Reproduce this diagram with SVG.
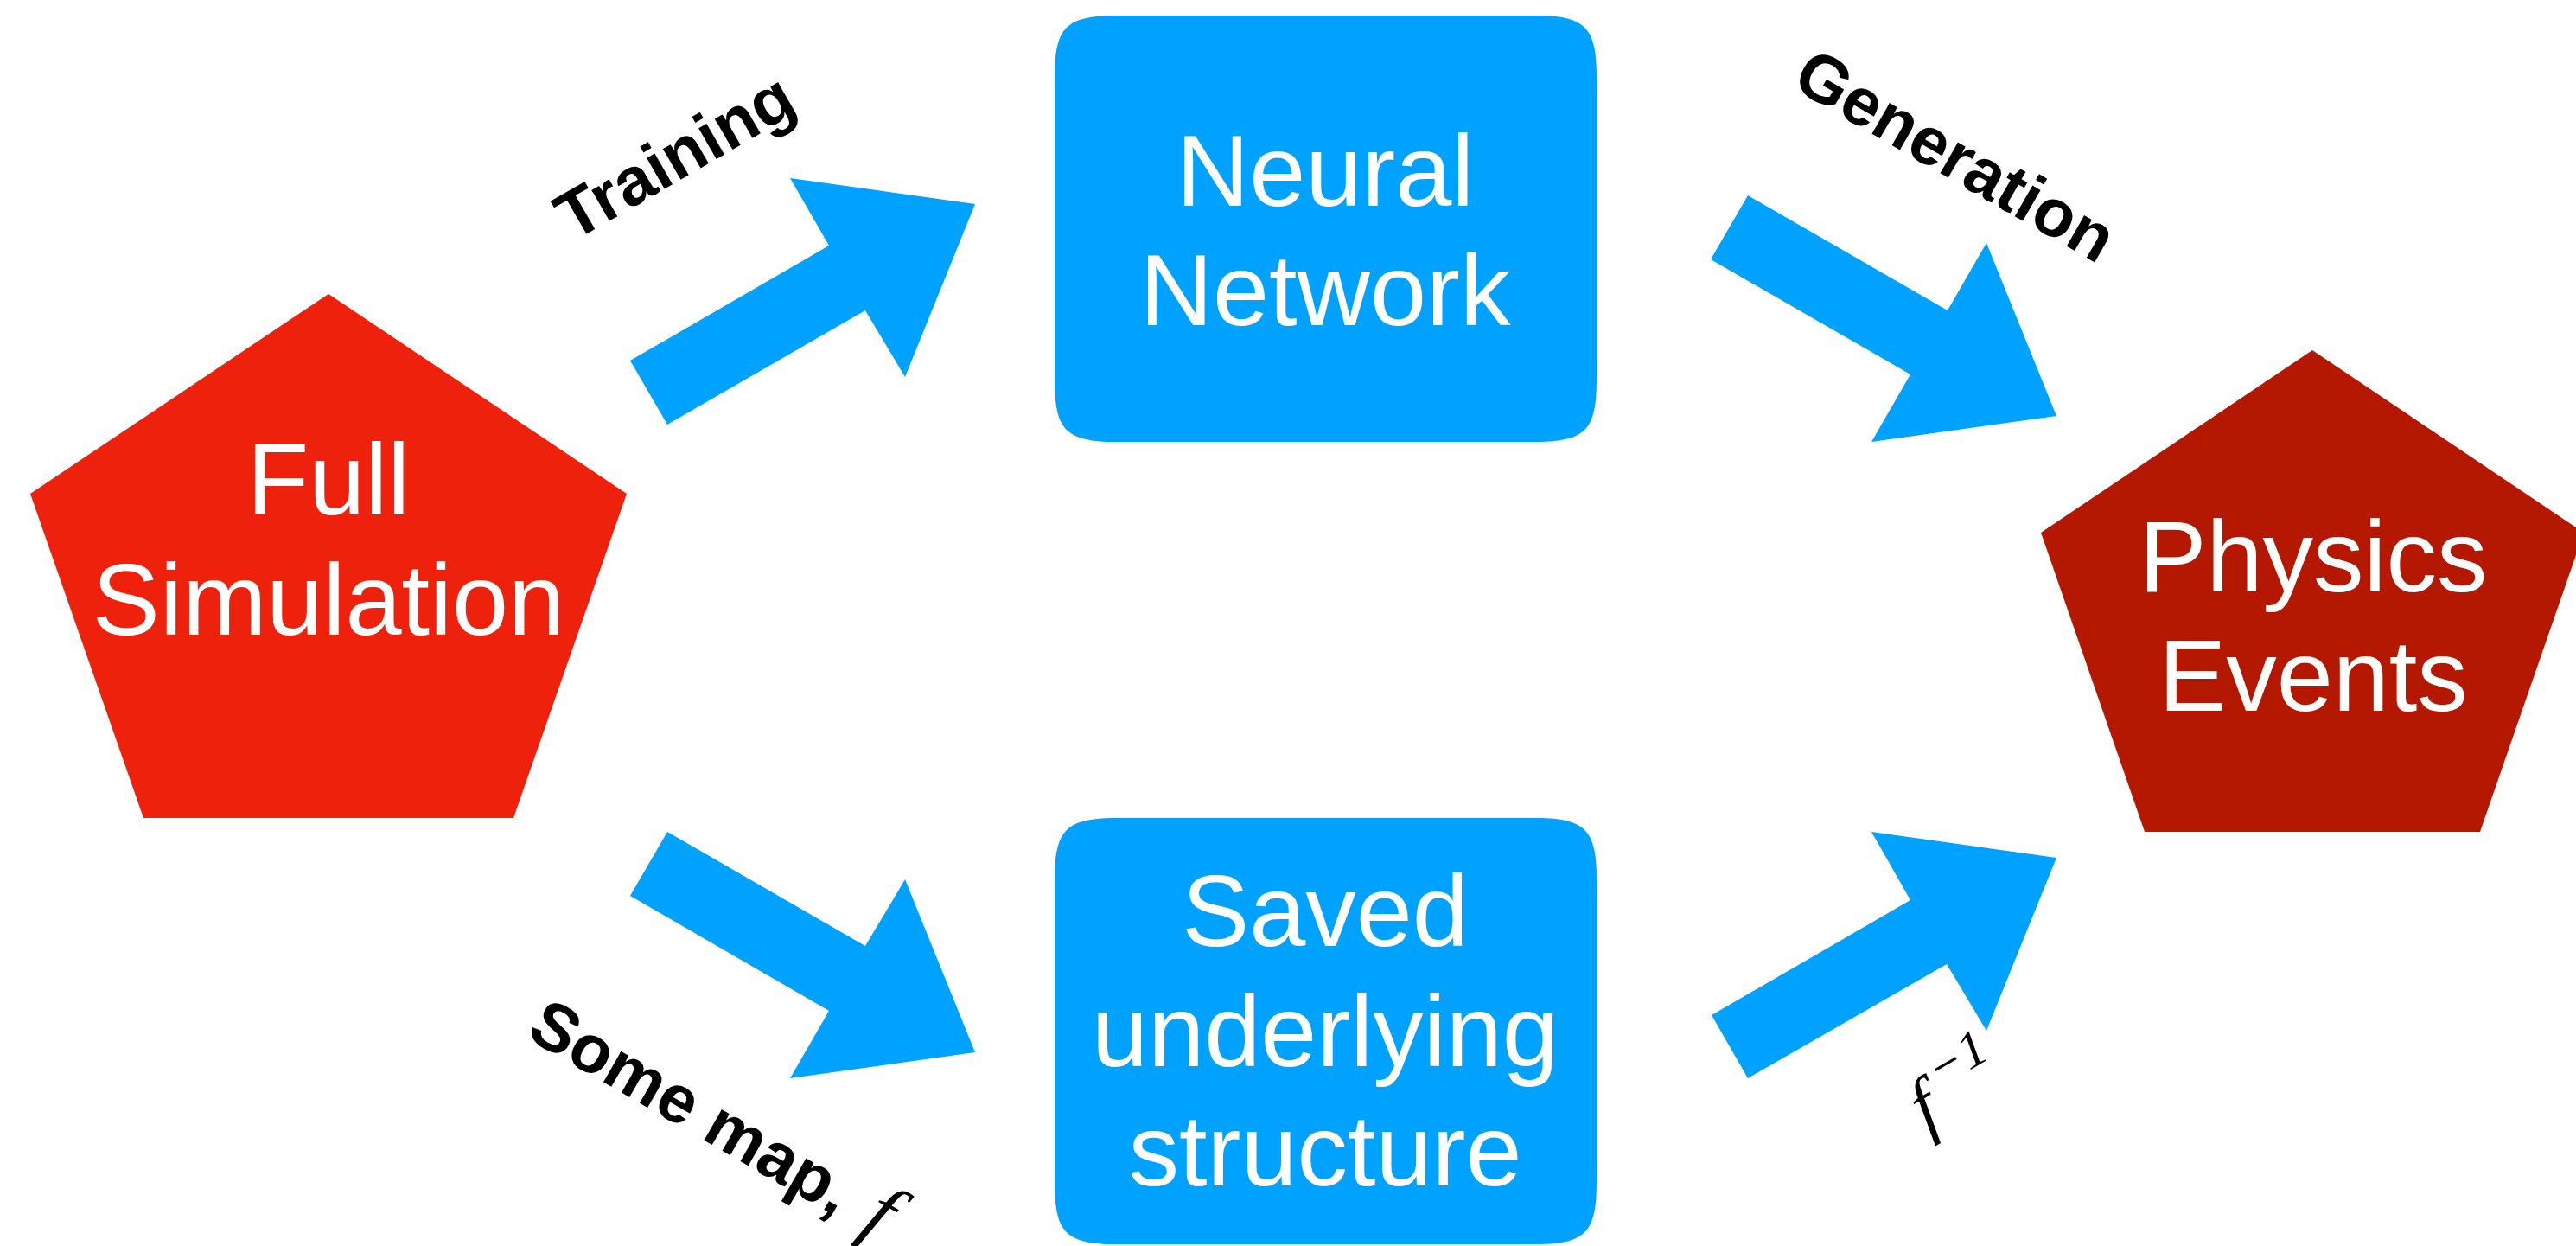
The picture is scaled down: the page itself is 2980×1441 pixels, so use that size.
<svg xmlns="http://www.w3.org/2000/svg" width="2980" height="1441" viewBox="0 0 2980 1441">
<style>
.node-text{font-family:"Liberation Sans",Arial,Helvetica,sans-serif;font-size:117px;fill:#ffffff;text-anchor:middle}
.label{font-family:"Liberation Sans",Arial,Helvetica,sans-serif;font-size:78px;font-weight:bold;fill:#000000}
.math{font-family:"Liberation Serif","Times New Roman",serif;font-style:italic;font-weight:normal;fill:#000000}
.arrow{fill:#00A2FF}
.box{fill:#00A2FF}
</style>
<rect width="2980" height="1441" fill="#ffffff"/>
<g id="full-simulation">
<polygon points="380,340 725,571 594,946 166,946 35,571" fill="#EE220C"/>
<text class="node-text"><tspan x="380" y="595">Full</tspan><tspan x="380" y="734">Simulation</tspan></text>
</g>
<g id="neural-network">
<path class="box" d="M1220,90 C1220,31 1233,18 1292,18 H1775 C1834,18 1847,31 1847,90 V439 C1847,498 1834,511 1775,511 H1292 C1233,511 1220,498 1220,439 Z"/>
<text class="node-text"><tspan x="1533" y="238">Neural</tspan><tspan x="1533" y="376">Network</tspan></text>
</g>
<g id="saved-structure">
<path class="box" d="M1220,1018 C1220,959 1233,946 1292,946 H1775 C1834,946 1847,959 1847,1018 V1367 C1847,1426 1834,1439 1775,1439 H1292 C1233,1439 1220,1426 1220,1367 Z"/>
<text class="node-text"><tspan x="1533" y="1094">Saved</tspan><tspan x="1533" y="1233">underlying</tspan><tspan x="1533" y="1371">structure</tspan></text>
</g>
<g id="physics-events">
<polygon points="2675,405 2989,616 2869,962 2481,962 2361,616" fill="#B51800"/>
<text class="node-text"><tspan x="2676" y="684">Physics</tspan><tspan x="2676" y="822">Events</tspan></text>
</g>
<g id="connectors">
<polygon class="arrow" points="772,491 729,417 959,284 914,206 1128,236 1047,436 1001,359"/>
<polygon class="arrow" points="772,962 729,1036 959,1169 914,1247 1128,1217 1047,1017 1001,1094"/>
<polygon class="arrow" points="2022,226 1979,300 2210,433 2165,511 2379,481 2298,281 2253,359"/>
<polygon class="arrow" points="1980,1174 2022,1247 2252,1115 2298,1192 2379,992 2165,962 2210,1041"/>
<text class="label" x="794" y="204" text-anchor="middle" transform="rotate(-30 794 204)">Training</text>
<text class="label" x="2249" y="203" text-anchor="middle" transform="rotate(30 2249 203)">Generation</text>
<text class="label" x="607" y="1199" transform="rotate(30 607 1199)">Some map, <tspan class="math" font-size="94" dx="8">f</tspan></text>
<text class="math" x="2229" y="1310" font-size="86" transform="rotate(-30 2229 1310)">f<tspan font-size="60" dx="14" dy="-38">−1</tspan></text>
</g>
</svg>
